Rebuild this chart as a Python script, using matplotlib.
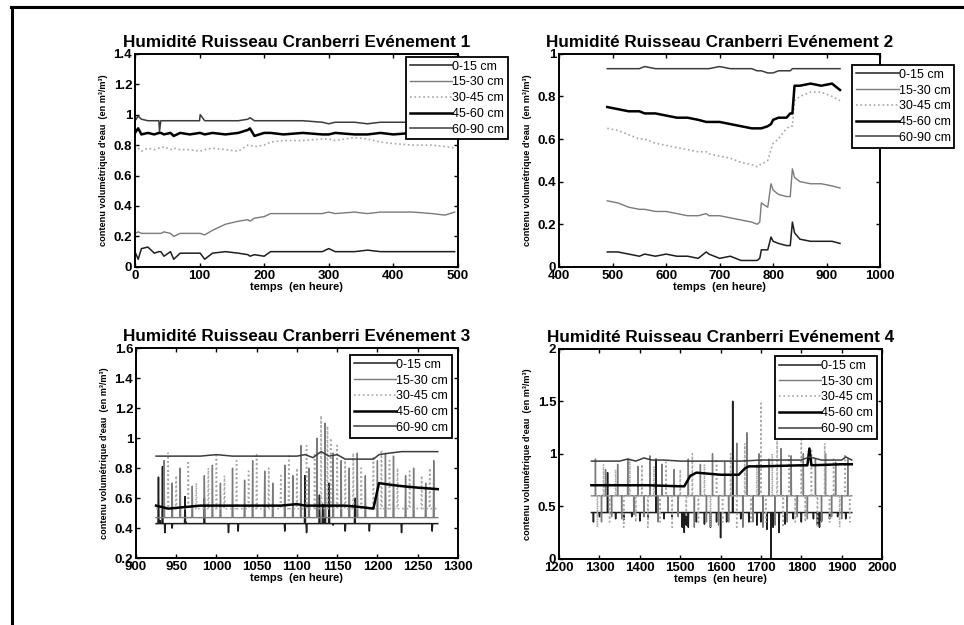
import matplotlib
matplotlib.use("Agg")
import matplotlib.pyplot as plt
from matplotlib.lines import Line2D
from matplotlib.ticker import FuncFormatter

plt.rcParams['font.family'] = ['Liberation Sans', 'DejaVu Sans']
plt.rcParams['font.weight'] = 'bold'

labels = ['0-15 cm', '15-30 cm', '30-45 cm', '45-60 cm', '60-90 cm']

# ---- Evénement 1 ----
t1 = [0, 5, 10, 20, 30, 37, 38, 40, 45, 55, 60, 70, 85, 100, 101, 108, 120, 140, 160,
      175, 178, 185, 200, 210, 230, 260, 290, 300, 310, 340, 360, 380, 400, 430,
      460, 480, 495]
e1_0_15 = [0.10, 0.05, 0.12, 0.13, 0.09, 0.10, 0.10, 0.10, 0.07, 0.10, 0.05, 0.09,
           0.09, 0.09, 0.09, 0.05, 0.09, 0.10, 0.09, 0.08, 0.07, 0.08, 0.07, 0.10,
           0.10, 0.10, 0.10, 0.12, 0.10, 0.10, 0.11, 0.10, 0.10, 0.10, 0.10, 0.10, 0.10]
e1_15_30 = [0.22, 0.23, 0.22, 0.22, 0.22, 0.22, 0.22, 0.22, 0.23, 0.22, 0.20, 0.22,
            0.22, 0.22, 0.22, 0.21, 0.24, 0.28, 0.30, 0.31, 0.30, 0.32, 0.33, 0.35,
            0.35, 0.35, 0.35, 0.36, 0.35, 0.36, 0.35, 0.36, 0.36, 0.36, 0.35, 0.34, 0.36]
e1_30_45 = [0.80, 0.78, 0.76, 0.78, 0.77, 0.78, 0.78, 0.78, 0.79, 0.77, 0.78, 0.77,
            0.77, 0.76, 0.76, 0.77, 0.78, 0.77, 0.76, 0.80, 0.80, 0.79, 0.80, 0.82,
            0.83, 0.83, 0.84, 0.84, 0.83, 0.85, 0.84, 0.82, 0.81, 0.80, 0.80, 0.79, 0.78]
e1_45_60 = [0.88, 0.91, 0.87, 0.88, 0.87, 0.88, 0.88, 0.88, 0.87, 0.88, 0.86, 0.88,
            0.87, 0.88, 0.88, 0.87, 0.88, 0.87, 0.88, 0.90, 0.91, 0.86, 0.88, 0.88,
            0.87, 0.88, 0.87, 0.87, 0.88, 0.87, 0.87, 0.88, 0.87, 0.88, 0.87, 0.88, 0.88]
e1_60_90 = [0.96, 0.99, 0.97, 0.96, 0.96, 0.96, 0.89, 0.96, 0.96, 0.96, 0.96, 0.96,
            0.96, 0.96, 1.00, 0.96, 0.96, 0.96, 0.96, 0.97, 0.98, 0.96, 0.96, 0.96,
            0.96, 0.96, 0.95, 0.94, 0.95, 0.95, 0.94, 0.95, 0.95, 0.95, 0.95, 0.95, 0.95]

# ---- Evénement 2 ----
t2 = [490, 510, 530, 550, 560, 580, 600, 620, 640, 660, 675, 680, 700, 720, 740,
      760, 770, 775, 778, 790, 796, 800, 810, 825, 832, 836, 840, 850, 870, 890,
      910, 925]
e2_0_15 = [0.07, 0.07, 0.06, 0.05, 0.06, 0.05, 0.06, 0.05, 0.05, 0.04, 0.07, 0.06,
           0.04, 0.05, 0.03, 0.03, 0.03, 0.04, 0.08, 0.08, 0.14, 0.12, 0.11, 0.10,
           0.10, 0.21, 0.16, 0.13, 0.12, 0.12, 0.12, 0.11]
e2_15_30 = [0.31, 0.30, 0.28, 0.27, 0.27, 0.26, 0.26, 0.25, 0.24, 0.24, 0.25, 0.24,
            0.24, 0.23, 0.22, 0.21, 0.20, 0.21, 0.30, 0.28, 0.39, 0.36, 0.34, 0.33,
            0.33, 0.46, 0.42, 0.40, 0.39, 0.39, 0.38, 0.37]
e2_30_45 = [0.65, 0.64, 0.62, 0.60, 0.60, 0.58, 0.57, 0.56, 0.55, 0.54, 0.54, 0.53,
            0.52, 0.51, 0.49, 0.48, 0.47, 0.48, 0.48, 0.50, 0.55, 0.58, 0.60, 0.65,
            0.66, 0.66, 0.78, 0.80, 0.82, 0.82, 0.80, 0.78]
e2_45_60 = [0.75, 0.74, 0.73, 0.73, 0.72, 0.72, 0.71, 0.70, 0.70, 0.69, 0.68, 0.68,
            0.68, 0.67, 0.66, 0.65, 0.65, 0.65, 0.65, 0.66, 0.67, 0.69, 0.70, 0.70,
            0.72, 0.72, 0.85, 0.85, 0.86, 0.85, 0.86, 0.83]
e2_60_90 = [0.93, 0.93, 0.93, 0.93, 0.94, 0.93, 0.93, 0.93, 0.93, 0.93, 0.93, 0.93,
            0.94, 0.93, 0.93, 0.93, 0.92, 0.92, 0.92, 0.91, 0.91, 0.91, 0.92, 0.92,
            0.92, 0.93, 0.93, 0.93, 0.93, 0.93, 0.93, 0.93]

# ---- Evénement 3 ----
t3_range = [925, 1275]
t3 = [925, 940, 960, 980, 1000, 1020, 1040, 1060, 1080, 1100, 1110, 1120, 1130,
      1140, 1150, 1160, 1180, 1195, 1202, 1215, 1230, 1250, 1275]
e3_45_60 = [0.55, 0.53, 0.54, 0.55, 0.55, 0.55, 0.55, 0.55, 0.55, 0.56, 0.55, 0.55,
            0.55, 0.55, 0.55, 0.55, 0.54, 0.53, 0.70, 0.69, 0.68, 0.67, 0.66]
e3_60_90 = [0.88, 0.88, 0.88, 0.88, 0.89, 0.88, 0.88, 0.88, 0.88, 0.88, 0.89, 0.87,
            0.91, 0.88, 0.89, 0.86, 0.86, 0.86, 0.89, 0.90, 0.91, 0.91, 0.91]
e3_base = [0.43, 0.47, 0.53]   # niveaux de base 0-15, 15-30, 30-45
e3_spk_t_0_15 = [928, 930, 933, 936, 945, 961, 962, 985, 1015, 1027, 1085, 1110,
                 1112, 1128, 1132, 1135, 1140, 1145, 1160, 1172, 1190, 1230, 1268]
e3_spk_v_0_15 = [0.74, 0.45, 0.81, 0.37, 0.40, 0.61, 0.44, 0.60, 0.37, 0.38, 0.38,
                 0.75, 0.37, 0.62, 0.56, 0.78, 0.70, 0.42, 0.38, 0.60, 0.38, 0.37, 0.38]
e3_spk_t_15_30 = [935, 945, 955, 970, 985, 995, 1005, 1020, 1035, 1045, 1060, 1070,
                  1085, 1095, 1105, 1115, 1125, 1135, 1145, 1155, 1165, 1175, 1185,
                  1200, 1210, 1220, 1235, 1245, 1260, 1270]
e3_spk_v_15_30 = [0.85, 0.70, 0.80, 0.68, 0.75, 0.82, 0.70, 0.80, 0.72, 0.85, 0.78,
                  0.70, 0.82, 0.75, 0.95, 0.80, 1.00, 1.10, 0.90, 0.85, 0.80, 0.90,
                  0.75, 0.85, 0.90, 0.88, 0.75, 0.80, 0.70, 0.85]
e3_spk_t_30_45 = [940, 950, 965, 975, 990, 1000, 1010, 1025, 1040, 1050, 1065, 1080,
                  1090, 1100, 1112, 1122, 1130, 1138, 1142, 1150, 1160, 1170, 1180,
                  1195, 1205, 1215, 1225, 1240, 1255, 1265]
e3_spk_v_30_45 = [0.90, 0.75, 0.85, 0.70, 0.80, 0.90, 0.75, 0.85, 0.78, 0.90, 0.80,
                  0.75, 0.88, 0.80, 0.95, 0.90, 1.15, 1.08, 1.00, 0.95, 0.85, 0.90,
                  0.80, 0.88, 0.92, 0.85, 0.80, 0.78, 0.75, 0.80]

# ---- Evénement 4 ----
t4_range = [1280, 1925]
t4_top = [1280, 1320, 1350, 1370, 1390, 1410, 1430, 1460, 1500, 1550, 1600, 1650,
          1700, 1750, 1800, 1820, 1850, 1900, 1910, 1925]
e4_60_90 = [0.93, 0.93, 0.93, 0.95, 0.93, 0.96, 0.94, 0.94, 0.93, 0.93, 0.93, 0.93,
            0.94, 0.94, 0.94, 0.97, 0.94, 0.94, 0.97, 0.94]
t4_mid = [1280, 1350, 1420, 1500, 1510, 1525, 1540, 1600, 1645, 1660, 1670, 1700,
          1800, 1815, 1820, 1825, 1900, 1925]
e4_45_60 = [0.70, 0.70, 0.70, 0.69, 0.69, 0.79, 0.82, 0.80, 0.80, 0.86, 0.88, 0.88,
            0.89, 0.89, 1.05, 0.89, 0.90, 0.90]
e4_base = [0.44, 0.60, 0.60]
e4_spk_t_0_15 = [1285, 1300, 1320, 1340, 1360, 1380, 1400, 1420, 1440, 1460, 1480,
                 1505, 1510, 1515, 1520, 1540, 1560, 1575, 1590, 1600, 1615, 1630,
                 1650, 1670, 1690, 1700, 1715, 1725, 1730, 1745, 1760, 1780, 1800,
                 1830, 1840, 1845, 1850, 1870, 1890, 1910]
e4_spk_v_0_15 = [0.35, 0.40, 0.82, 0.38, 0.37, 0.40, 0.36, 0.38, 0.95, 0.38, 0.40,
                 0.30, 0.25, 0.32, 0.30, 0.35, 0.33, 0.30, 0.35, 0.20, 0.35, 1.50,
                 0.38, 0.35, 0.32, 0.35, 0.28, 0.00, 0.30, 0.25, 0.33, 0.38, 0.35,
                 0.38, 0.32, 0.30, 0.36, 0.38, 0.40, 0.38]
e4_spk_t_15_30 = [1290, 1305, 1315, 1330, 1345, 1355, 1370, 1385, 1395, 1410, 1425,
                  1445, 1455, 1470, 1485, 1495, 1520, 1535, 1550, 1565, 1580, 1595,
                  1610, 1620, 1640, 1655, 1665, 1680, 1695, 1705, 1720, 1735, 1750,
                  1765, 1775, 1790, 1805, 1815, 1835, 1850, 1860, 1875, 1885, 1900,
                  1915]
e4_spk_v_15_30 = [0.95, 0.35, 0.85, 0.40, 0.90, 0.38, 0.95, 0.42, 0.88, 0.40, 0.98,
                  0.35, 0.90, 0.45, 0.85, 0.40, 0.95, 0.30, 0.90, 0.35, 1.00, 0.32,
                  0.92, 0.35, 1.10, 0.30, 1.20, 0.35, 1.00, 0.30, 0.95, 0.32, 1.05,
                  0.35, 0.98, 0.40, 1.00, 0.38, 0.95, 0.35, 1.00, 0.40, 0.92, 0.38,
                  0.95]
e4_spk_t_30_45 = [1295, 1310, 1325, 1340, 1360, 1375, 1390, 1405, 1420, 1435, 1450,
                  1465, 1480, 1500, 1515, 1530, 1545, 1560, 1575, 1590, 1605, 1625,
                  1640, 1660, 1675, 1690, 1700, 1712, 1728, 1740, 1755, 1770, 1785,
                  1800, 1810, 1825, 1840, 1858, 1870, 1880, 1895, 1908, 1920]
e4_spk_v_30_45 = [0.30, 0.90, 0.35, 0.85, 0.30, 0.95, 0.35, 0.90, 0.30, 0.88, 0.35,
                  0.92, 0.30, 0.85, 0.40, 1.00, 0.35, 0.90, 0.30, 0.95, 0.35, 1.00,
                  0.30, 1.10, 0.35, 0.90, 1.48, 0.35, 1.00, 1.25, 0.30, 1.00, 0.35,
                  1.20, 0.35, 1.05, 0.30, 1.10, 0.35, 0.95, 0.30, 1.00, 0.35]

colors = ['#1e1e1e', '#7a7a7a', '#a8a8a8', '#000000', '#3c3c3c']
styles = ['-', '-', ':', '-', '-']
widths = [1.1, 1.0, 1.2, 1.8, 1.1]


def spiky(t_range, base, spk_t, spk_v):
    # niveau de base constant + pics verticaux
    xs, ys = [t_range[0]], [base]
    for t, v in zip(spk_t, spk_v):
        xs += [t - 0.6, t, t + 0.6]
        ys += [base, v, base]
    xs.append(t_range[1])
    ys.append(base)
    return xs, ys


def setup(ax, num, xlim, xticks, ylim, yticks, leg_anchor):
    ax.set_xlim(*xlim)
    ax.set_ylim(*ylim)
    ax.set_xticks(xticks)
    ax.set_yticks(yticks)
    fmt = FuncFormatter(lambda v, p: '%g' % v)
    ax.xaxis.set_major_formatter(fmt)
    ax.yaxis.set_major_formatter(fmt)
    ax.tick_params(direction='in', top=True, right=True, length=3, width=1,
                   labelsize=9.5, pad=2)
    for lab in ax.get_xticklabels() + ax.get_yticklabels():
        lab.set_fontweight('bold')
    for s in ax.spines.values():
        s.set_linewidth(1.4)
    ax.set_title('Humidité Ruisseau Cranberri Evénement %d' % num,
                 fontsize=12.3, fontweight='bold', pad=5)
    ax.set_xlabel('temps  (en heure)', fontsize=8, fontweight='bold', labelpad=0)
    ax.set_ylabel("contenu volumétrique d'eau  (en m³/m³)", fontsize=6.6,
                  fontweight='bold', labelpad=4)
    leg = ax.legend(loc='upper right', bbox_to_anchor=leg_anchor,
                    bbox_transform=fig.transFigure, fontsize=9, frameon=True,
                    fancybox=False, edgecolor='black', framealpha=1,
                    borderaxespad=0, borderpad=0.3, labelspacing=0.3,
                    handlelength=3.4, handletextpad=0.0)
    leg.get_frame().set_linewidth(1.3)
    for txt in leg.get_texts():
        txt.set_fontweight('normal')


fig = plt.figure(figsize=(9.64, 6.25), dpi=100)
ax1 = fig.add_axes([0.140, 0.573, 0.335, 0.341])
ax2 = fig.add_axes([0.580, 0.573, 0.333, 0.341])
ax3 = fig.add_axes([0.141, 0.107, 0.334, 0.336])
ax4 = fig.add_axes([0.580, 0.106, 0.335, 0.336])

# panneau 1
for y, lab, c, ls, lw in zip([e1_0_15, e1_15_30, e1_30_45, e1_45_60, e1_60_90],
                             labels, colors, styles, widths):
    ax1.plot(t1, y, color=c, ls=ls, lw=lw, label=lab)
setup(ax1, 1, (0, 500), range(0, 501, 100), (0, 1.4),
      [0, 0.2, 0.4, 0.6, 0.8, 1.0, 1.2, 1.4], (0.527, 0.909))

# panneau 2
for y, lab, c, ls, lw in zip([e2_0_15, e2_15_30, e2_30_45, e2_45_60, e2_60_90],
                             labels, colors, styles, widths):
    ax2.plot(t2, y, color=c, ls=ls, lw=lw, label=lab)
setup(ax2, 2, (400, 1000), range(400, 1001, 100), (0, 1),
      [0, 0.2, 0.4, 0.6, 0.8, 1.0], (0.990, 0.896))

# panneau 3
s3 = [spiky(t3_range, e3_base[0], e3_spk_t_0_15, e3_spk_v_0_15),
      spiky(t3_range, e3_base[1], e3_spk_t_15_30, e3_spk_v_15_30),
      spiky(t3_range, e3_base[2], e3_spk_t_30_45, e3_spk_v_30_45),
      (t3, e3_45_60), (t3, e3_60_90)]
for (x, y), lab, c, ls, lw in zip(s3, labels, colors, styles, widths):
    ax3.plot(x, y, color=c, ls=ls, lw=lw, label=lab)
setup(ax3, 3, (900, 1300), range(900, 1301, 50), (0.2, 1.6),
      [0.2, 0.4, 0.6, 0.8, 1.0, 1.2, 1.4, 1.6], (0.469, 0.432))

# panneau 4
s4 = [spiky(t4_range, e4_base[0], e4_spk_t_0_15, e4_spk_v_0_15),
      spiky(t4_range, e4_base[1], e4_spk_t_15_30, e4_spk_v_15_30),
      spiky(t4_range, e4_base[2], e4_spk_t_30_45, e4_spk_v_30_45),
      (t4_mid, e4_45_60), (t4_top, e4_60_90)]
for (x, y), lab, c, ls, lw in zip(s4, labels, colors, styles, widths):
    ax4.plot(x, y, color=c, ls=ls, lw=lw, label=lab)
setup(ax4, 4, (1200, 2000), range(1200, 2001, 100), (0, 2),
      [0, 0.5, 1, 1.5, 2], (0.910, 0.430))

# cadre extérieur (haut et gauche)
fig.add_artist(Line2D([0.011, 1.0], [0.989, 0.989], color='black', lw=2.2,
                      transform=fig.transFigure))
fig.add_artist(Line2D([0.012, 0.012], [0.0, 0.989], color='black', lw=2.2,
                      transform=fig.transFigure))

fig.savefig('out.png', dpi=100)
